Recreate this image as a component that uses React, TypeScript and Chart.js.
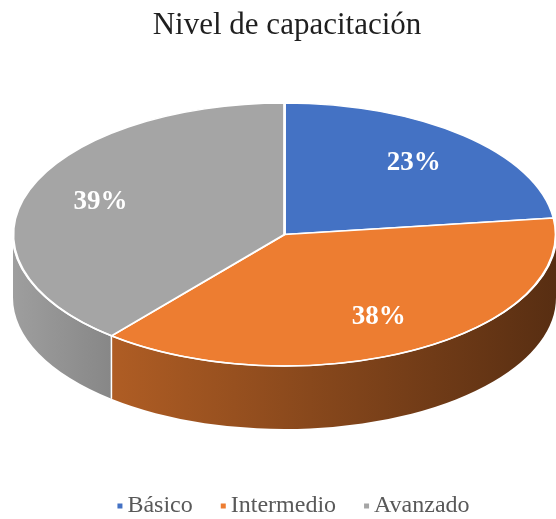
import React, { useEffect, useRef } from "react";
import { Chart, registerables } from "chart.js";

Chart.register(...registerables);

// ---- data ----
const CATEGORIES = ["Básico", "Intermedio", "Avanzado"];
const VALUES = [23, 38, 39];
const VALUE_LABELS = ["23%", "38%", "39%"];
const TITLE = "Nivel de capacitación";

// ---- styles ----
const COLORS = ["#4472C4", "#ED7D31", "#A5A5A5"];
const SIDE_SHADE = [
  [0.7, 0.4],
  [0.74, 0.37],
  [0.96, 0.82],
];
const GEOM = { cx: 284.5, cy: 234.5, rx: 271.5, ry: 131.5, depth: 63 };
const LABEL_FRACTION = 0.72;
const SERIF = "'Liberation Serif', 'Times New Roman', serif";

function shade(hex: string, f: number): string {
  const n = parseInt(hex.slice(1), 16);
  const r = Math.round(((n >> 16) & 255) * f);
  const g = Math.round(((n >> 8) & 255) * f);
  const b = Math.round((n & 255) * f);
  return `rgb(${r},${g},${b})`;
}

const pie3dPlugin = {
  id: "pie3d",
  beforeDatasetsDraw(chart: any) {
    const ctx = chart.ctx as CanvasRenderingContext2D;
    const meta = chart.getDatasetMeta(0);
    const { cx, cy, rx, ry, depth } = GEOM;
    const seams: number[] = [];
    ctx.save();
    meta.data.forEach((arc: any, i: number) => {
      const s = Math.max(arc.startAngle, 0);
      const e = Math.min(arc.endAngle, Math.PI);
      if (e <= s) return;
      const xl = cx + rx * Math.cos(e);
      const xr = cx + rx * Math.cos(s);
      const g = ctx.createLinearGradient(xl, 0, xr, 0);
      g.addColorStop(0, shade(COLORS[i], SIDE_SHADE[i][0]));
      g.addColorStop(1, shade(COLORS[i], SIDE_SHADE[i][1]));
      ctx.beginPath();
      ctx.ellipse(cx, cy, rx, ry, 0, s, e, false);
      ctx.ellipse(cx, cy + depth, rx, ry, 0, e, s, true);
      ctx.closePath();
      ctx.fillStyle = g;
      ctx.fill();
      if (s > 0.001 && s < Math.PI - 0.001) seams.push(s);
    });
    ctx.strokeStyle = "#ffffff";
    ctx.lineWidth = 1.5;
    seams.forEach((t) => {
      const x = cx + rx * Math.cos(t);
      const y = cy + ry * Math.sin(t);
      ctx.beginPath();
      ctx.moveTo(x, y);
      ctx.lineTo(x, y + depth);
      ctx.stroke();
    });
    ctx.restore();

    // squash the library's pie into the top face ellipse
    const a0 = meta.data[0];
    ctx.save();
    ctx.translate(cx, cy);
    ctx.scale(rx / a0.outerRadius, ry / a0.outerRadius);
    ctx.translate(-a0.x, -a0.y);
  },
  afterDatasetsDraw(chart: any) {
    const ctx = chart.ctx as CanvasRenderingContext2D;
    ctx.restore();
    const meta = chart.getDatasetMeta(0);
    const { cx, cy, rx, ry } = GEOM;
    ctx.save();
    ctx.strokeStyle = "#ffffff";
    ctx.lineWidth = 1.5;
    ctx.beginPath();
    ctx.ellipse(cx, cy, rx, ry, 0, 0, Math.PI, false);
    ctx.stroke();

    ctx.fillStyle = "#ffffff";
    ctx.font = `bold 27px ${SERIF}`;
    ctx.textAlign = "center";
    ctx.textBaseline = "middle";
    meta.data.forEach((arc: any, i: number) => {
      const mid = (arc.startAngle + arc.endAngle) / 2;
      const x = cx + rx * LABEL_FRACTION * Math.cos(mid);
      const y = cy + ry * LABEL_FRACTION * Math.sin(mid);
      ctx.fillText(VALUE_LABELS[i], x, y);
    });
    ctx.restore();
  },
  afterDraw(chart: any) {
    const ctx = chart.ctx as CanvasRenderingContext2D;
    ctx.save();
    ctx.font = `24px ${SERIF}`;
    ctx.textBaseline = "middle";
    ctx.textAlign = "left";
    const box = 5;
    const gapBoxText = 5;
    const gapItems = 28;
    const widths = CATEGORIES.map((c) => ctx.measureText(c).width);
    const total =
      widths.reduce((a, w) => a + w + box + gapBoxText, 0) +
      gapItems * (CATEGORIES.length - 1);
    let x = 293.5 - total / 2;
    const y = 506;
    CATEGORIES.forEach((c, i) => {
      ctx.fillStyle = COLORS[i];
      ctx.fillRect(x, y - box / 2, box, box);
      x += box + gapBoxText;
      ctx.fillStyle = "#595959";
      ctx.fillText(c, x, y);
      x += widths[i] + gapItems;
    });
    ctx.restore();
  },
};

export default function App() {
  const ref = useRef<HTMLCanvasElement>(null);
  useEffect(() => {
    document.body.style.margin = "0";
    const chart = new Chart(ref.current as HTMLCanvasElement, {
      type: "pie",
      data: {
        labels: CATEGORIES,
        datasets: [
          {
            data: VALUES,
            backgroundColor: COLORS,
            borderColor: "#ffffff",
            borderWidth: 2,
            clip: false as any,
          } as any,
        ],
      },
      options: {
        responsive: false,
        animation: false,
        devicePixelRatio: 1,
        events: [],
        radius: 200,
        layout: { padding: { top: 0, bottom: 40, left: 18, right: 0 } },
        plugins: {
          legend: { display: false },
          tooltip: { enabled: false },
          title: {
            display: true,
            text: TITLE,
            color: "#1f1f1f",
            font: { family: SERIF, size: 31, weight: "normal" as any },
            padding: { top: 7, bottom: 10 },
          },
        },
      } as any,
      plugins: [pie3dPlugin],
    });
    return () => chart.destroy();
  }, []);
  return (
    <div style={{ width: 556, height: 519 }}>
      <canvas ref={ref} width={556} height={519} style={{ display: "block" }} />
    </div>
  );
}
